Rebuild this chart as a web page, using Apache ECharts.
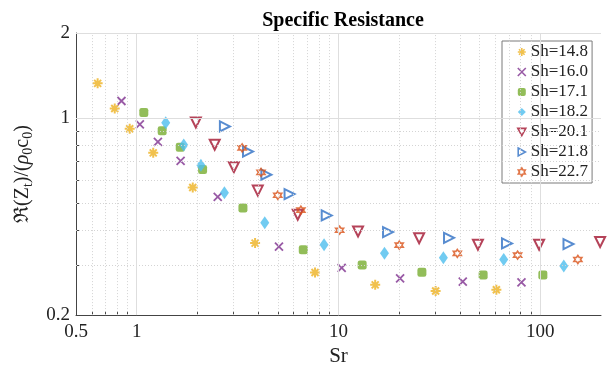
<!DOCTYPE html>
<html>
<head>
<meta charset="utf-8">
<script src="https://cdn.jsdelivr.net/npm/echarts@6/dist/echarts.min.js"></script>
<style>
html, body {margin: 0; padding: 0; background: #fff;}
#chart {width: 614px; height: 372px;}
</style>
</head>
<body>
<div id="chart"></div>
<script>
// Sr (x) and specific resistance (y) for each Sh
const sr148 = [0.64, 0.778, 0.923, 1.207, 1.895, 3.86, 7.65, 15.2, 30.3, 60.6];
const re148 = [1.326, 1.080, 0.916, 0.752, 0.567, 0.360, 0.283, 0.256, 0.2435, 0.246];
const sr160 = [0.84, 1.036, 1.273, 1.65, 2.52, 5.07, 10.37, 20.2, 41.3, 80.7];
const re160 = [1.148, 0.948, 0.823, 0.704, 0.525, 0.350, 0.294, 0.270, 0.263, 0.261];
const sr171 = [1.084, 1.337, 1.643, 2.12, 3.36, 6.69, 13.1, 25.9, 52.1, 103];
const re171 = [1.046, 0.901, 0.787, 0.657, 0.479, 0.341, 0.301, 0.284, 0.2774, 0.2774];
const sr182 = [1.392, 1.71, 2.08, 2.72, 4.31, 8.48, 16.9, 33.1, 65.9, 130.8];
const re182 = [0.961, 0.802, 0.680, 0.5425, 0.4246, 0.355, 0.3315, 0.3193, 0.315, 0.2988];
const sr201 = [1.963, 2.435, 3.03, 3.98, 6.28, 12.5, 25.1, 49.1, 98.7, 198];
const re201 = [0.963, 0.804, 0.669, 0.5525, 0.454, 0.396, 0.3747, 0.355, 0.355, 0.363];
const sr218 = [2.735, 3.56, 4.39, 5.72, 8.74, 17.6, 35.3, 68.4, 138];
const re218 = [0.933, 0.760, 0.629, 0.537, 0.451, 0.394, 0.3757, 0.359, 0.357];
const sr227 = [3.33, 4.13, 5.0, 6.51, 10.13, 20.0, 38.8, 77.2, 153.6];
const re227 = [0.783, 0.641, 0.532, 0.471, 0.400, 0.354, 0.331, 0.3264, 0.315];

const seriesNames = ['Sh=14.8', 'Sh=16.0', 'Sh=17.1', 'Sh=18.2', 'Sh=20.1', 'Sh=21.8', 'Sh=22.7'];

// axis ticks / grid
const xTickLabels = [0.5, 1, 10, 100];
const yTickLabels = [0.2, 1, 2];
const xMajor = [1, 10, 100];
const yMajor = [1, 2];
const xMinor = [0.6, 0.7, 0.8, 0.9, 2, 3, 4, 5, 6, 7, 8, 9, 20, 30, 40, 50, 60, 70, 80, 90];
const yMinor = [0.3, 0.4, 0.5, 0.6, 0.7, 0.8, 0.9];

const FONT = '"Liberation Serif", "Times New Roman", serif';
const zip = (xs, ys) => xs.map((x, i) => [x, ys[i]]);

const asterisk = 'path://M1,0L1,2M0,1L2,1M0.3,0.3L1.7,1.7M0.3,1.7L1.7,0.3';
const cross = 'path://M0,0L2,2M0,2L2,0';
const downTri = 'path://M0,0L2,0L1,1.8Z';
const rightTri = 'path://M0,0L1.8,1L0,2Z';
const hexagram = 'path://M1,0L1.2887,0.5L1.866,0.5L1.5774,1L1.866,1.5L1.2887,1.5L1,2L0.7113,1.5L0.134,1.5L0.4226,1L0.134,0.5L0.7113,0.5Z';

const clear = 'rgba(0,0,0,0)';
const seriesDefs = [
	{data: zip(sr148, re148), symbol: asterisk, symbolSize: 10, itemStyle: {color: clear, borderColor: '#EDB120', borderWidth: 2}},
	{data: zip(sr160, re160), symbol: cross, symbolSize: 8, itemStyle: {color: clear, borderColor: '#7E2F8E', borderWidth: 1.8}},
	{data: zip(sr171, re171), symbol: 'roundRect', symbolSize: 9, itemStyle: {color: '#77AC30'}},
	{data: zip(sr182, re182), symbol: 'diamond', symbolSize: [9, 13], itemStyle: {color: '#4DBEEE'}},
	{data: zip(sr201, re201), symbol: downTri, symbolSize: 10, itemStyle: {color: clear, borderColor: '#A2142F', borderWidth: 2}},
	{data: zip(sr218, re218), symbol: rightTri, symbolSize: 10, itemStyle: {color: clear, borderColor: '#2E6FC4', borderWidth: 2}},
	{data: zip(sr227, re227), symbol: hexagram, symbolSize: 8, itemStyle: {color: clear, borderColor: '#D95319', borderWidth: 1.6}}
];

const chart = echarts.init(document.getElementById('chart'), null, {renderer: 'canvas'});

chart.setOption({
	animation: false,
	backgroundColor: '#fff',
	textStyle: {fontFamily: FONT},
	title: {
		text: 'Specific Resistance',
		left: 338,
		textAlign: 'center',
		top: 6,
		textStyle: {fontFamily: FONT, fontSize: 20, fontWeight: 'bold', color: '#000'}
	},
	grid: {left: 76, right: 13, top: 33, bottom: 53, containLabel: false},
	legend: {
		orient: 'vertical',
		left: 502,
		top: 41,
		data: seriesNames,
		itemWidth: 8,
		itemHeight: 8,
		itemGap: 2,
		padding: [2, 4, 2, 15],
		backgroundColor: '#fff',
		borderColor: '#7a7a7a',
		borderWidth: 1,
		itemStyle: {borderWidth: 1.6},
		textStyle: {fontFamily: FONT, fontSize: 17, lineHeight: 18, color: '#222'}
	},
	xAxis: {
		type: 'log',
		logBase: 10,
		min: 0.5,
		max: 200,
		name: 'Sr',
		nameLocation: 'middle',
		nameGap: 30,
		nameTextStyle: {fontFamily: FONT, fontSize: 21, color: '#222'},
		axisLine: {lineStyle: {color: '#444', width: 1}},
		axisTick: {show: true, inside: true, length: 4, customValues: xMinor.concat(xMajor), lineStyle: {color: '#444'}},
		axisLabel: {customValues: xTickLabels, fontFamily: FONT, fontSize: 19, color: '#222', margin: 7},
		splitLine: {show: false}
	},
	yAxis: {
		type: 'log',
		logBase: 10,
		min: 0.2,
		max: 2,
		name: '{a|ℜ(Z}{s|t}{a|)/(}{g|ρ}{s|0}{a|c}{s|0}{a|)}',
		nameLocation: 'middle',
		nameGap: 42,
		nameTextStyle: {
			fontFamily: FONT,
			color: '#222',
			rich: {
				a: {fontFamily: FONT, fontSize: 20, lineHeight: 20, color: '#222'},
				g: {fontFamily: FONT, fontSize: 20, lineHeight: 20, fontStyle: 'italic', color: '#222'},
				s: {fontFamily: FONT, fontSize: 14, lineHeight: 14, padding: [11, 0, 0, 0], color: '#222'}
			}
		},
		axisLine: {show: true, lineStyle: {color: '#444', width: 1}},
		axisTick: {show: true, inside: true, length: 4, customValues: yMinor.concat(yMajor), lineStyle: {color: '#444'}},
		axisLabel: {customValues: yTickLabels, fontFamily: FONT, fontSize: 19, color: '#222', margin: 6},
		splitLine: {show: false}
	},
	series: [
		{
			type: 'line',
			data: [],
			silent: true,
			z: 1,
			markLine: {
				silent: true,
				symbol: 'none',
				label: {show: false},
				animation: false,
				data: xMinor.map(v => ({xAxis: v, lineStyle: {type: [1, 2], color: '#d4d4d4', width: 1}}))
					.concat(yMinor.map(v => ({yAxis: v, lineStyle: {type: [1, 2], color: '#d4d4d4', width: 1}})))
					.concat(xMajor.map(v => ({xAxis: v, lineStyle: {type: 'solid', color: '#dedede', width: 1}})))
					.concat(yMajor.map(v => ({yAxis: v, lineStyle: {type: 'solid', color: '#dedede', width: 1}})))
			}
		}
	].concat(seriesDefs.map((s, i) => ({
		name: seriesNames[i],
		type: 'scatter',
		z: 3,
		...s
	})))
});
</script>
</body>
</html>
